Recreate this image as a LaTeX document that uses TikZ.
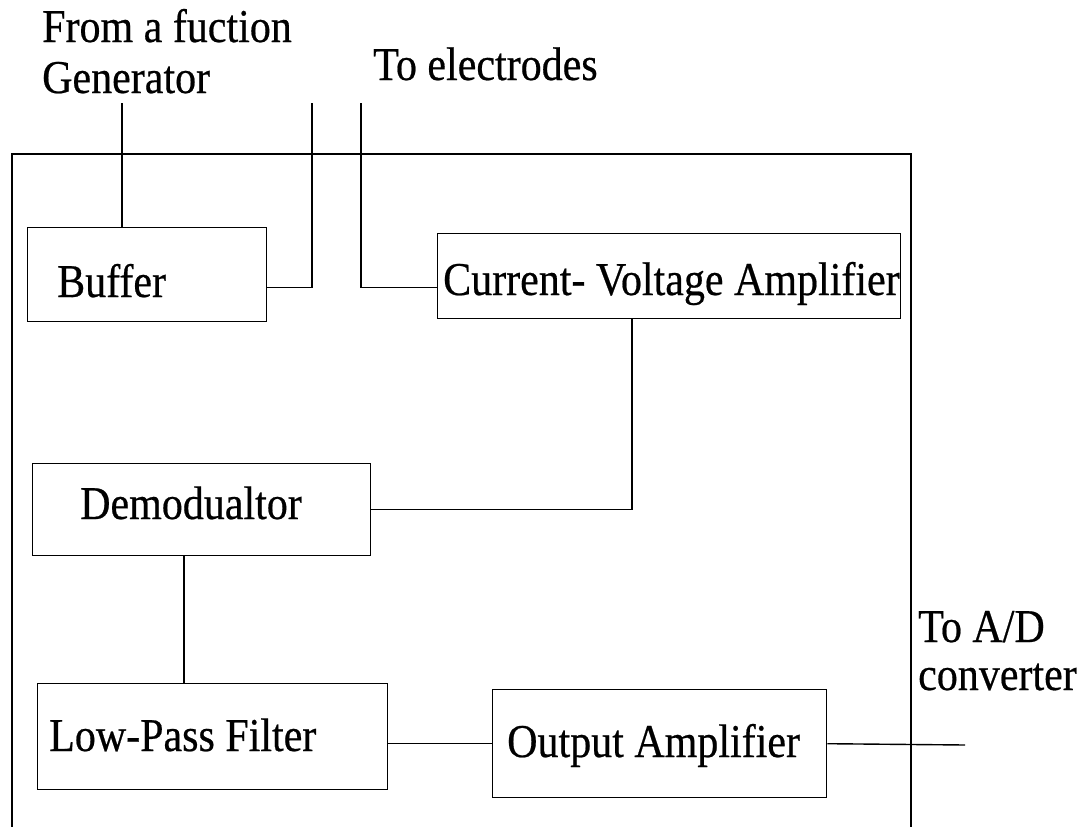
\documentclass[tikz,border=0pt]{standalone}
\usepackage{fontspec}
\usepackage{graphicx}
\setmainfont{Liberation Serif}
\newfontfamily\scanfont{Liberation Serif}[FakeBold=0.5]
\newcommand{\stretchtxt}[1]{\scalebox{1}[1.12]{#1}}
\tikzset{
  blockbox/.style={draw, rectangle, inner sep=0pt, anchor=north west, line width=1.4pt},
  wire/.style={line width=1.4pt},
  lbl/.style={inner sep=0pt, anchor=base west, font=\scanfont\fontsize{42}{48}\selectfont}
}
\begin{document}
\begin{tikzpicture}[x=1pt,y=-1pt]
\useasboundingbox[fill=white] (0,0) rectangle (1087,827);
% outer frame (open at the bottom)
\draw[wire] (12,827) -- (12,154) -- (911,154) -- (911,827);
% blocks
\node[blockbox, minimum width=239pt, minimum height=94pt] (buf) at (27,227) {};
\node[blockbox, minimum width=463pt, minimum height=85pt] (cv) at (437,233) {};
\node[blockbox, minimum width=338pt, minimum height=92pt] (dem) at (32,463) {};
\node[blockbox, minimum width=350pt, minimum height=106pt] (lpf) at (37,683) {};
\node[blockbox, minimum width=334pt, minimum height=108pt] (oa) at (492,689) {};
% texts
\node[lbl] (bufT) at (57,297) {\stretchtxt{Buffer}};
\node[lbl] (cvT) at (443,295) {\stretchtxt{Current- Voltage Amplifier}};
\node[lbl] (demT) at (80,519) {\stretchtxt{Demodualtor}};
\node[lbl] (lpfT) at (49,751) {\stretchtxt{Low-Pass Filter}};
\node[lbl] (oaT) at (507,757) {\stretchtxt{Output Amplifier}};
\node[lbl] (from1) at (42,42) {\stretchtxt{From a fuction}};
\node[lbl] (from2) at (42,93) {\stretchtxt{Generator}};
\node[lbl] (toel) at (373,80) {\stretchtxt{To electrodes}};
\node[lbl] (toad1) at (918,642) {\stretchtxt{To A/D}};
\node[lbl] (toad2) at (918,690) {\stretchtxt{converter}};
% free ends
\coordinate (genTop) at (122,103);
\coordinate (elA) at (312,103);
\coordinate (elB) at (361,103);
\coordinate (adc) at (965,745);
% connectors
\draw[wire] (genTop) -- (genTop |- buf.north);
\path (buf.south east) ++(0,-35) coordinate (bufo);
\draw[wire] (bufo) -| (elA);
\path (cv.south west) ++(0,-32) coordinate (cvi);
\draw[wire] (elB) |- (cvi);
\path (cv.south west) ++(195,0) coordinate (cvd);
\draw[wire] (cvd) |- (dem.east);
\path (dem.south west) ++(152,0) coordinate (dl);
\draw[wire] (dl) -- (dl |- lpf.north);
\draw[wire] (lpf.east |- oa.west) -- (oa.west);
\draw[wire] (oa.east) -- (adc);
\end{tikzpicture}
\end{document}
